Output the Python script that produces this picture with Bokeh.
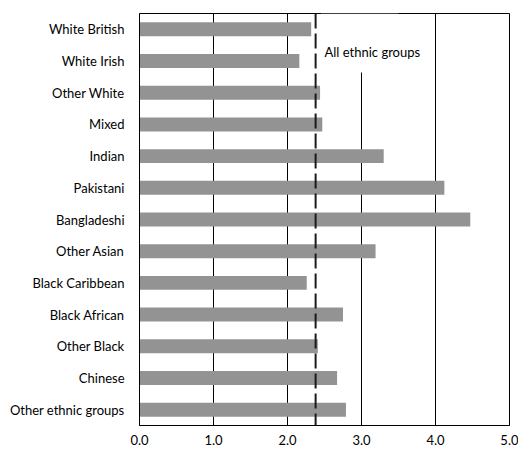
from bokeh.plotting import figure
from bokeh.models import Range1d, FixedTicker, PrintfTickFormatter, Span, Label, BoxAnnotation
from bokeh.embed import file_html
from bokeh.resources import INLINE

groups = ["White British", "White Irish", "Other White", "Mixed", "Indian", "Pakistani",
          "Bangladeshi", "Other Asian", "Black Caribbean", "Black African", "Other Black",
          "Chinese", "Other ethnic groups"]
values = [2.32, 2.16, 2.44, 2.47, 3.30, 4.12, 4.47, 3.19, 2.26, 2.75, 2.41, 2.67, 2.79]
all_groups_value = 2.38
all_groups_label = "All ethnic groups"
x_ticks = [0, 1, 2, 3, 4, 5]

FONT = "Lato"
ypos = list(range(len(groups)))

p = figure(output_backend="svg", toolbar_location=None,
           frame_width=370, frame_height=412,
           min_border_left=139, min_border_right=9, min_border_top=13, min_border_bottom=10,
           x_range=Range1d(0, 5), y_range=Range1d(len(groups) - 0.5, -0.5))

p.background_fill_color = "white"
p.border_fill_color = "white"
p.outline_line_color = "black"
p.outline_line_width = 1

p.hbar(y=ypos, right=values, left=0, height=0.44, fill_color="#939393", line_color=None)

# grid
p.xgrid.ticker = FixedTicker(ticks=x_ticks)
p.xgrid.grid_line_color = "black"
p.xgrid.grid_line_width = 1
p.xgrid.level = "image"
p.ygrid.visible = False

# white box behind label, covering gridline
box = BoxAnnotation(left=2.45, right=3.5, top=-0.5, bottom=1.36,
                    fill_color="white", fill_alpha=1, line_color=None, level="underlay")
p.add_layout(box)

span = Span(location=all_groups_value, dimension="height", line_color="#1a1a1a",
            line_width=2, line_dash="15 5")
p.add_layout(span)

lab = Label(x=2.5, y=0.73, text=all_groups_label, text_font=FONT, text_font_size="13px",
            text_baseline="middle", text_align="left", text_color="black")
p.add_layout(lab)

# axes
p.xaxis.ticker = FixedTicker(ticks=x_ticks)
p.xaxis.formatter = PrintfTickFormatter(format="%.1f")
p.yaxis.ticker = FixedTicker(ticks=ypos)
p.yaxis.major_label_overrides = {i: g for i, g in zip(ypos, groups)}
for ax in (p.xaxis[0], p.yaxis[0]):
    ax.major_tick_line_color = None
    ax.minor_tick_line_color = None
    ax.axis_line_color = "black"
    ax.axis_line_width = 1
    ax.major_label_text_font = FONT
    ax.major_label_text_font_size = "13px"
    ax.major_label_text_color = "black"
p.yaxis.major_label_standoff = 9
p.xaxis.major_label_standoff = 3

open("out.html", "w").write(file_html(p, INLINE))
